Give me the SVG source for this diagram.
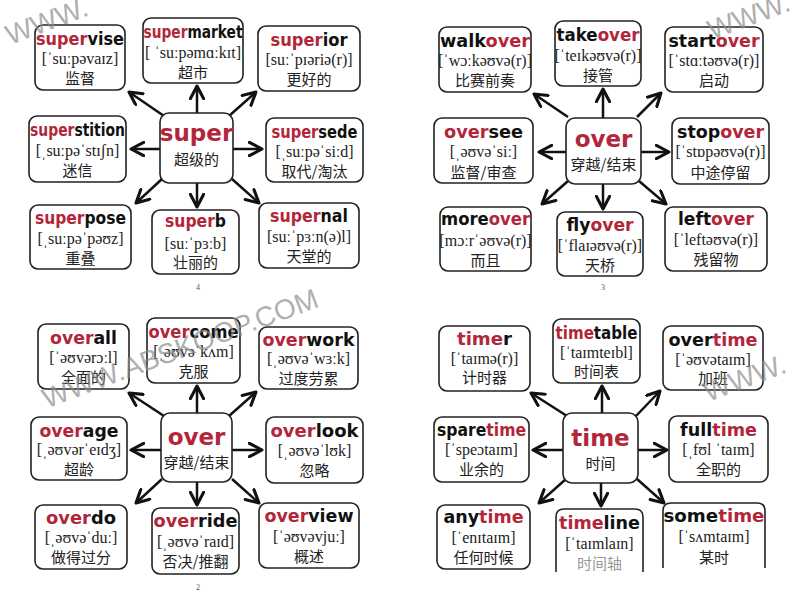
<svg xmlns="http://www.w3.org/2000/svg" width="800" height="600" viewBox="0 0 800 600">
<defs>
<marker id="ah" markerUnits="userSpaceOnUse" markerWidth="16" markerHeight="16" viewBox="0 0 12 12" refX="10.5" refY="6" orient="auto">
<path d="M1,1 L10.5,6 L1,11" fill="none" stroke="#111" stroke-width="2.3" stroke-linecap="round" stroke-linejoin="round"/>
</marker>
<style>
.node rect, .node path{fill:#fff;stroke:#222;stroke-width:1.6}
.t{font-family:"DejaVu Sans","Liberation Sans",sans-serif;font-weight:bold;font-size:17px;fill:#111;text-anchor:middle}
.ct{font-family:"DejaVu Sans","Liberation Sans",sans-serif;font-weight:bold;font-size:23px;fill:#b3263a;text-anchor:middle}
.r{fill:#b3263a}
.p{font-family:"Liberation Serif","DejaVu Serif",serif;font-size:16px;fill:#222;text-anchor:middle}
.c{font-family:"Noto Sans CJK SC","Noto Sans",sans-serif;font-size:15px;fill:#222;text-anchor:middle}
.pg{font-family:"Liberation Serif",serif;font-size:8px;fill:#555;text-anchor:middle}
.wm{font-family:"Liberation Sans",sans-serif;font-size:28px;fill:#8c8c8c;fill-opacity:0.7}
#connectors line{stroke:#111;stroke-width:2.5;marker-end:url(#ah)}
</style>
</defs>
<rect width="800" height="600" fill="#fff"/>

<g id="connectors">
<line x1="164" y1="116" x2="129" y2="92"/>
<line x1="197" y1="113" x2="197" y2="86"/>
<line x1="229" y1="116" x2="256" y2="92"/>
<line x1="160" y1="149" x2="131" y2="149"/>
<line x1="233" y1="149" x2="262" y2="149"/>
<line x1="162" y1="179" x2="136" y2="203"/>
<line x1="197" y1="183" x2="197" y2="207"/>
<line x1="232" y1="179" x2="259" y2="203"/>

<line x1="568" y1="117" x2="534" y2="94"/>
<line x1="603" y1="118" x2="603" y2="89"/>
<line x1="637" y1="117" x2="661" y2="93"/>
<line x1="566" y1="152" x2="539" y2="152"/>
<line x1="641" y1="152" x2="669" y2="152"/>
<line x1="568" y1="181" x2="542" y2="204"/>
<line x1="603" y1="184" x2="603" y2="209"/>
<line x1="639" y1="181" x2="666" y2="204"/>

<line x1="164" y1="416" x2="129" y2="393"/>
<line x1="197" y1="413" x2="197" y2="386"/>
<line x1="229" y1="416" x2="256" y2="392"/>
<line x1="161" y1="450" x2="131" y2="450"/>
<line x1="232" y1="450" x2="262" y2="450"/>
<line x1="162" y1="479" x2="136" y2="503"/>
<line x1="197" y1="482" x2="197" y2="505"/>
<line x1="232" y1="479" x2="259" y2="503"/>

<line x1="567" y1="416" x2="531" y2="393"/>
<line x1="602" y1="413" x2="602" y2="386"/>
<line x1="636" y1="416" x2="660" y2="391"/>
<line x1="563" y1="450" x2="533" y2="450"/>
<line x1="638" y1="450" x2="667" y2="450"/>
<line x1="566" y1="479" x2="539" y2="503"/>
<line x1="601" y1="483" x2="601" y2="506"/>
<line x1="637" y1="479" x2="664" y2="503"/>
</g>

<!-- Quadrant 1: super -->
<g id="n-supervise" class="node"><rect x="35" y="25" width="90" height="65" rx="8"/>
<text class="t" x="80" y="45" textLength="88" lengthAdjust="spacingAndGlyphs"><tspan class="r">super</tspan>vise</text>
<text class="p" x="80" y="64">[ˈsuːpəvaɪz]</text><text class="c" x="80" y="84">监督</text></g>
<g id="n-supermarket" class="node"><rect x="143" y="18" width="100" height="65" rx="8"/>
<text class="t" x="193" y="38" textLength="99" lengthAdjust="spacingAndGlyphs"><tspan class="r">super</tspan>market</text>
<text class="p" x="193" y="58">[ ˈsuːpəmɑːkɪt]</text><text class="c" x="193" y="78">超市</text></g>
<g id="n-superior" class="node"><rect x="258" y="26" width="102" height="65" rx="8"/>
<text class="t" x="309" y="46" textLength="77" lengthAdjust="spacingAndGlyphs"><tspan class="r">super</tspan>ior</text>
<text class="p" x="309" y="65">[suːˈpɪəriə(r)]</text><text class="c" x="309" y="85">更好的</text></g>
<g id="n-superstition" class="node"><rect x="29" y="116" width="97" height="66" rx="8"/>
<text class="t" x="77.5" y="136" textLength="95" lengthAdjust="spacingAndGlyphs"><tspan class="r">super</tspan>stition</text>
<text class="p" x="77.5" y="156">[ˌsuːpəˈstɪʃn]</text><text class="c" x="77.5" y="176">迷信</text></g>
<g id="n-super" class="node"><rect x="160" y="113" width="73" height="70" rx="9"/>
<text class="ct" x="196.5" y="141" font-size="22">super</text>
<text class="c" x="196.5" y="165">超级的</text></g>
<g id="n-supersede" class="node"><rect x="266" y="118" width="97" height="64" rx="8"/>
<text class="t" x="314.5" y="138" textLength="86" lengthAdjust="spacingAndGlyphs"><tspan class="r">super</tspan>sede</text>
<text class="p" x="314.5" y="157">[ˌsuːpəˈsiːd]</text><text class="c" x="314.5" y="177">取代/淘汰</text></g>
<g id="n-superpose" class="node"><rect x="30" y="205" width="101" height="64" rx="8"/>
<text class="t" x="80.5" y="224" textLength="91" lengthAdjust="spacingAndGlyphs"><tspan class="r">super</tspan>pose</text>
<text class="p" x="80.5" y="244">[ˌsuːpəˈpəʊz]</text><text class="c" x="80.5" y="264">重叠</text></g>
<g id="n-superb" class="node"><rect x="152" y="210" width="87" height="64" rx="8"/>
<text class="t" x="195.5" y="227" textLength="61" lengthAdjust="spacingAndGlyphs"><tspan class="r">super</tspan>b</text>
<text class="p" x="195.5" y="249">[suːˈpɜːb]</text><text class="c" x="195.5" y="268">壮丽的</text></g>
<g id="n-supernal" class="node"><rect x="259" y="203" width="100" height="65" rx="8"/>
<text class="t" x="309" y="222" textLength="78" lengthAdjust="spacingAndGlyphs"><tspan class="r">super</tspan>nal</text>
<text class="p" x="309" y="242">[suːˈpɜːn(ə)l]</text><text class="c" x="309" y="262">天堂的</text></g>
<text class="pg" x="198" y="290">4</text>

<!-- Quadrant 2: over -->
<g id="n-walkover" class="node"><rect x="439" y="27" width="92" height="65" rx="8"/>
<text class="t" x="485" y="47" textLength="90" lengthAdjust="spacingAndGlyphs">walk<tspan class="r">over</tspan></text>
<text class="p" x="485" y="66">[ˈwɔːkəʊvə(r)]</text><text class="c" x="485" y="86">比赛前奏</text></g>
<g id="n-takeover" class="node"><rect x="555" y="21" width="86" height="65" rx="8"/>
<text class="t" x="598" y="41" textLength="83" lengthAdjust="spacingAndGlyphs">take<tspan class="r">over</tspan></text>
<text class="p" x="598" y="61">[ˈteɪkəʊvə(r)]</text><text class="c" x="598" y="81">接管</text></g>
<g id="n-startover" class="node"><rect x="665" y="27" width="98" height="65" rx="8"/>
<text class="t" x="714" y="47" textLength="91" lengthAdjust="spacingAndGlyphs">start<tspan class="r">over</tspan></text>
<text class="p" x="714" y="66">[ˈstɑːtəʊvə(r)]</text><text class="c" x="714" y="86">启动</text></g>
<g id="n-oversee" class="node"><rect x="434" y="118" width="99" height="65" rx="8"/>
<text class="t" x="483.5" y="138" textLength="79" lengthAdjust="spacingAndGlyphs"><tspan class="r">over</tspan>see</text>
<text class="p" x="483.5" y="157">[ˌəʊvəˈsiː]</text><text class="c" x="483.5" y="178">监督/审查</text></g>
<g id="n-over1" class="node"><rect x="566" y="118" width="75" height="66" rx="9"/>
<text class="ct" x="603.5" y="147">over</text>
<text class="c" x="603.5" y="170">穿越/结束</text></g>
<g id="n-stopover" class="node"><rect x="672" y="118" width="97" height="66" rx="8"/>
<text class="t" x="720.5" y="138" textLength="87" lengthAdjust="spacingAndGlyphs">stop<tspan class="r">over</tspan></text>
<text class="p" x="720.5" y="157">[ˈstɒpəʊvə(r)]</text><text class="c" x="720.5" y="178">中途停留</text></g>
<g id="n-moreover" class="node"><rect x="440" y="207" width="91" height="64" rx="8"/>
<text class="t" x="485.5" y="225" textLength="89" lengthAdjust="spacingAndGlyphs">more<tspan class="r">over</tspan></text>
<text class="p" x="485.5" y="246">[mɔːrˈəʊvə(r)]</text><text class="c" x="485.5" y="266">而且</text></g>
<g id="n-flyover" class="node"><rect x="557" y="212" width="86" height="64" rx="8"/>
<text class="t" x="600" y="231" textLength="67" lengthAdjust="spacingAndGlyphs">fly<tspan class="r">over</tspan></text>
<text class="p" x="600" y="251">[ˈflaɪəʊvə(r)]</text><text class="c" x="600" y="271">天桥</text></g>
<g id="n-leftover" class="node"><rect x="665" y="207" width="102" height="64" rx="8"/>
<text class="t" x="716" y="225" textLength="76" lengthAdjust="spacingAndGlyphs">left<tspan class="r">over</tspan></text>
<text class="p" x="716" y="245">[ˈleftəʊvə(r)]</text><text class="c" x="716" y="265">残留物</text></g>
<text class="pg" x="603" y="290">3</text>

<!-- Quadrant 3: over -->
<g id="n-overall" class="node"><rect x="38" y="324" width="91" height="65" rx="8"/>
<text class="t" x="83.5" y="344" textLength="67" lengthAdjust="spacingAndGlyphs"><tspan class="r">over</tspan>all</text>
<text class="p" x="83.5" y="363">[ˈəʊvərɔːl]</text><text class="c" x="83.5" y="383">全面的</text></g>
<g id="n-overcome" class="node"><rect x="147" y="318" width="93" height="65" rx="8"/>
<text class="t" x="193.5" y="338" textLength="90" lengthAdjust="spacingAndGlyphs"><tspan class="r">over</tspan>come</text>
<text class="p" x="193.5" y="357">[ˌəʊvəˈkʌm]</text><text class="c" x="193.5" y="377">克服</text></g>
<g id="n-overwork" class="node"><rect x="259" y="327" width="99" height="62" rx="8"/>
<text class="t" x="308.5" y="346" textLength="92" lengthAdjust="spacingAndGlyphs"><tspan class="r">over</tspan>work</text>
<text class="p" x="308.5" y="364">[ˌəʊvəˈwɜːk]</text><text class="c" x="308.5" y="384">过度劳累</text></g>
<g id="n-overage" class="node"><rect x="31" y="417" width="96" height="63" rx="8"/>
<text class="t" x="79" y="437" textLength="79" lengthAdjust="spacingAndGlyphs"><tspan class="r">over</tspan>age</text>
<text class="p" x="79" y="455">[ˌəʊvərˈeɪdʒ]</text><text class="c" x="79" y="475">超龄</text></g>
<g id="n-over2" class="node"><rect x="161" y="413" width="71" height="69" rx="9"/>
<text class="ct" x="196.5" y="445">over</text>
<text class="c" x="196.5" y="468">穿越/结束</text></g>
<g id="n-overlook" class="node"><rect x="266" y="417" width="97" height="66" rx="8"/>
<text class="t" x="314.5" y="437" textLength="88" lengthAdjust="spacingAndGlyphs"><tspan class="r">over</tspan>look</text>
<text class="p" x="314.5" y="456">[ˌəʊvəˈlʊk]</text><text class="c" x="314.5" y="476">忽略</text></g>
<g id="n-overdo" class="node"><rect x="35" y="505" width="92" height="64" rx="8"/>
<text class="t" x="81" y="524" textLength="70" lengthAdjust="spacingAndGlyphs"><tspan class="r">over</tspan>do</text>
<text class="p" x="81" y="543">[ˌəʊvəˈduː]</text><text class="c" x="81" y="563">做得过分</text></g>
<g id="n-override" class="node"><rect x="152" y="508" width="87" height="66" rx="8"/>
<text class="t" x="195.5" y="527" textLength="84" lengthAdjust="spacingAndGlyphs"><tspan class="r">over</tspan>ride</text>
<text class="p" x="195.5" y="547">[ˌəʊvəˈraɪd]</text><text class="c" x="195.5" y="567">否决/推翻</text></g>
<g id="n-overview" class="node"><rect x="259" y="503" width="100" height="65" rx="8"/>
<text class="t" x="309" y="522" textLength="89" lengthAdjust="spacingAndGlyphs"><tspan class="r">over</tspan>view</text>
<text class="p" x="309" y="542">[ˈəʊvəvjuː]</text><text class="c" x="309" y="562">概述</text></g>
<text class="pg" x="198" y="590">2</text>

<!-- Quadrant 4: time -->
<g id="n-timer" class="node"><rect x="439" y="326" width="91" height="65" rx="8"/>
<text class="t" x="484.5" y="345" textLength="55" lengthAdjust="spacingAndGlyphs"><tspan class="r">time</tspan>r</text>
<text class="p" x="484.5" y="364">[ˈtaɪmə(r)]</text><text class="c" x="484.5" y="383">计时器</text></g>
<g id="n-timetable" class="node"><rect x="553" y="319" width="87" height="64" rx="8"/>
<text class="t" x="596.5" y="339" textLength="82" lengthAdjust="spacingAndGlyphs"><tspan class="r">time</tspan>table</text>
<text class="p" x="596.5" y="358">[ˈtaɪmteɪbl]</text><text class="c" x="596.5" y="377">时间表</text></g>
<g id="n-overtime" class="node"><rect x="663" y="326" width="100" height="64" rx="8"/>
<text class="t" x="713" y="346" textLength="89" lengthAdjust="spacingAndGlyphs">over<tspan class="r">time</tspan></text>
<text class="p" x="713" y="365">[ˈəʊvətaɪm]</text><text class="c" x="713" y="384">加班</text></g>
<g id="n-sparetime" class="node"><rect x="434" y="417" width="95" height="65" rx="8"/>
<text class="t" x="481.5" y="436" textLength="89" lengthAdjust="spacingAndGlyphs">spare<tspan class="r">time</tspan></text>
<text class="p" x="481.5" y="455">[ˈspeɔtaɪm]</text><text class="c" x="481.5" y="475">业余的</text></g>
<g id="n-time" class="node"><rect x="563" y="413" width="75" height="70" rx="9"/>
<text class="ct" x="600.5" y="446">time</text>
<text class="c" x="600.5" y="469">时间</text></g>
<g id="n-fulltime" class="node"><rect x="669" y="416" width="99" height="66" rx="8"/>
<text class="t" x="718.5" y="436" textLength="77" lengthAdjust="spacingAndGlyphs">full<tspan class="r">time</tspan></text>
<text class="p" x="718.5" y="455">[ˌfʊl ˈtaɪm]</text><text class="c" x="718.5" y="475">全职的</text></g>
<g id="n-anytime" class="node"><rect x="437" y="505" width="93" height="64" rx="8"/>
<text class="t" x="483.5" y="523" textLength="80" lengthAdjust="spacingAndGlyphs">any<tspan class="r">time</tspan></text>
<text class="p" x="483.5" y="543">[ˈenɪtaɪm]</text><text class="c" x="483.5" y="563">任何时候</text></g>
<g id="n-timeline" class="node"><path d="M556,572 V517 Q556,509 564,509 H635 Q643,509 643,517 V572"/>
<text class="t" x="599.5" y="529" textLength="81" lengthAdjust="spacingAndGlyphs"><tspan class="r">time</tspan>line</text>
<text class="p" x="599.5" y="549">[ˈtaɪmlaɪn]</text><text class="c" x="599.5" y="569" style="fill:#999">时间轴</text></g>
<g id="n-sometime" class="node"><path d="M663,568 V511 Q663,503 671,503 H757 Q765,503 765,511 V568"/>
<text class="t" x="714" y="522" textLength="101" lengthAdjust="spacingAndGlyphs">some<tspan class="r">time</tspan></text>
<text class="p" x="714" y="542">[ˈsʌmtaɪm]</text><text class="c" x="714" y="563">某时</text></g>

<!-- watermarks -->
<g id="watermark">
<text class="wm" x="0" y="10" text-anchor="middle" transform="translate(180,348) rotate(-20.5)">WWW.ABSKOOP.COM</text>
<text class="wm" x="0" y="0" text-anchor="middle" transform="translate(50,30) rotate(-20.5)">WWW.</text>
<text class="wm" x="0" y="0" text-anchor="start" transform="translate(712,40) rotate(-20.5)">WWW.</text>
<text class="wm" x="0" y="0" text-anchor="start" transform="translate(708,402) rotate(-20.5)">WWW.</text>
</g>
</svg>
